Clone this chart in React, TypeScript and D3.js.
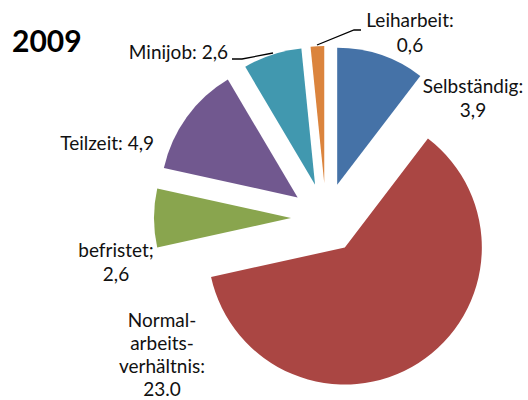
import React from "react";
import * as d3 from "d3";

const categories = ["Selbständig", "Normalarbeitsverhältnis", "befristet", "Teilzeit", "Minijob", "Leiharbeit"];
const values = [3.9, 23.0, 2.6, 4.9, 2.6, 0.6];
const colors = ["#4572A7", "#AA4643", "#89A54E", "#71588F", "#4198AF", "#DB843D"];
const labelLines = [
  ["Selbständig:", "3,9"],
  ["Normal-", "arbeits-", "verhältnis:", "23.0"],
  ["befristet;", "2,6"],
  ["Teilzeit: 4,9"],
  ["Minijob: 2,6"],
  ["Leiharbeit:", "0,6"],
];
const title = "2009";

const W = 528;
const H = 400;
const cx = 326;
const cy = 218;
const R = 137;
const explode = 35;

// label layout (anchor, x, first baseline, line height)
const labelPos: [string, number, number, number][] = [
  ["middle", 473, 93, 23.5],
  ["middle", 162, 327, 23],
  ["middle", 116, 257, 24],
  ["end", 154, 150, 23],
  ["end", 228, 59, 23],
  ["middle", 410, 27, 24.5],
];
const leaders: ([number, number][] | null)[] = [
  null,
  null,
  null,
  null,
  [[232, 59], [242, 59], [273, 53]],
  [[361, 30], [354, 30], [317, 45]],
];

export default function App() {
  const pie = d3.pie<number>().sort(null).value((d) => d).startAngle(0).endAngle(2 * Math.PI);
  const arcs = pie(values);
  const arc = d3.arc<d3.PieArcDatum<number>>().innerRadius(0).outerRadius(R);
  const lineGen = d3.line();
  return (
    <svg
      width={W}
      height={H}
      style={{ position: "fixed", left: 0, top: 0, background: "#fff" }}
      fontFamily="Lato, 'Open Sans', sans-serif"
    >
      <rect width={W} height={H} fill="#fff" />
      <text x={12} y={52} fontSize={30} fontWeight="bold" fill="#000">
        {title}
      </text>
      {arcs.map((a, i) => {
        const mid = (a.startAngle + a.endAngle) / 2;
        const dx = Math.sin(mid) * explode;
        const dy = -Math.cos(mid) * explode;
        return (
          <path
            key={categories[i]}
            d={arc(a) || ""}
            transform={`translate(${cx + dx},${cy + dy})`}
            fill={colors[i]}
          />
        );
      })}
      {leaders.map((pts, i) =>
        pts ? <path key={"l" + i} d={lineGen(pts) || ""} fill="none" stroke="#000" strokeWidth={1.3} /> : null
      )}
      {labelLines.map((lines, i) => {
        const [anchor, x, y, lh] = labelPos[i];
        return (
          <text key={"t" + i} x={x} y={y} fontSize={19} fill="#111" textAnchor={anchor}>
            {lines.map((ln, j) => (
              <tspan key={j} x={x} y={y + j * lh}>
                {ln}
              </tspan>
            ))}
          </text>
        );
      })}
    </svg>
  );
}
